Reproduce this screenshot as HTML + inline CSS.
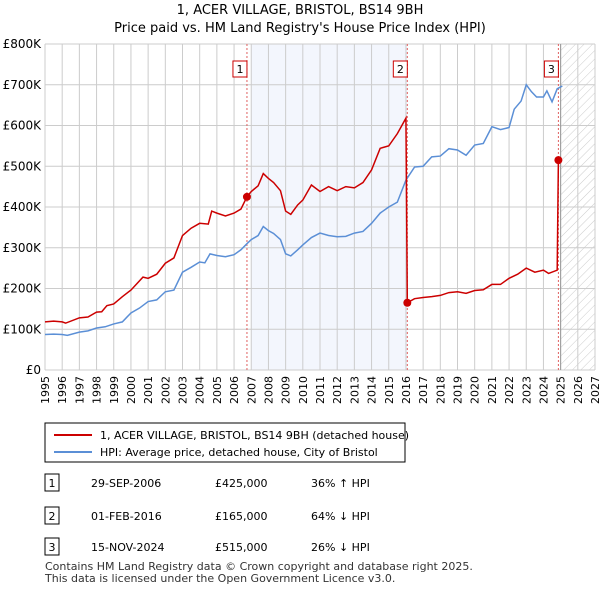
<!DOCTYPE html>
<html><head><meta charset="utf-8"><style>
body{margin:0;background:#fff;font-family:"Liberation Sans","DejaVu Sans",sans-serif;}
svg text{font-family:"DejaVu Sans","Liberation Sans",sans-serif;}
</style></head><body>
<svg id="c" width="600" height="590" viewBox="0 0 600 590" xmlns="http://www.w3.org/2000/svg">
<defs><pattern id="hatch" width="6" height="6" patternUnits="userSpaceOnUse" patternTransform="rotate(45)"><line x1="0" y1="0" x2="0" y2="6" stroke="#ccc" stroke-width="1"/></pattern></defs>
<text x="300" y="14" text-anchor="middle" font-size="13">1, ACER VILLAGE, BRISTOL, BS14 9BH</text>
<text x="300" y="32" text-anchor="middle" font-size="13">Price paid vs. HM Land Registry's House Price Index (HPI)</text>
<g id="grid"></g><g id="marks"></g>
<g>
<rect x="45" y="423" width="360" height="39" fill="#fff" stroke="#000" stroke-width="1"/>
<line x1="54" y1="435" x2="92" y2="435" stroke="#cc0000" stroke-width="2"/>
<text x="100" y="439" font-size="11">1, ACER VILLAGE, BRISTOL, BS14 9BH (detached house)</text>
<line x1="54" y1="452" x2="92" y2="452" stroke="#5b8fd6" stroke-width="2"/>
<text x="100" y="456" font-size="11">HPI: Average price, detached house, City of Bristol</text>
</g>
<g id="table" font-size="11"></g>
<text x="45" y="570" font-size="11" fill="#333">Contains HM Land Registry data © Crown copyright and database right 2025.</text>
<text x="45" y="582" font-size="11" fill="#333">This data is licensed under the Open Government Licence v3.0.</text>
</svg>
<script>
const yearTicks=[1995,1996,1997,1998,1999,2000,2001,2002,2003,2004,2005,2006,2007,2008,2009,2010,2011,2012,2013,2014,2015,2016,2017,2018,2019,2020,2021,2022,2023,2024,2025,2026,2027];
const valueTicks=[0,100000,200000,300000,400000,500000,600000,700000,800000];
const valueLabels=["£0","£100K","£200K","£300K","£400K","£500K","£600K","£700K","£800K"];
const hpiYears=[1995,1995.5,1996,1996.3,1997,1997.5,1998,1998.5,1999,1999.5,2000,2000.5,2001,2001.5,2002,2002.5,2003,2003.5,2004,2004.3,2004.6,2005,2005.5,2006,2006.4,2006.75,2007,2007.4,2007.7,2008,2008.3,2008.7,2009,2009.3,2009.7,2010,2010.5,2011,2011.5,2012,2012.5,2013,2013.5,2014,2014.5,2015,2015.5,2016,2016.5,2017,2017.5,2018,2018.5,2019,2019.5,2020,2020.5,2021,2021.5,2022,2022.3,2022.7,2023,2023.3,2023.6,2024,2024.2,2024.5,2024.8,2025.1];
const hpiValues=[87000,88000,87000,85000,93000,96000,103000,106000,113000,118000,140000,152000,168000,172000,192000,196000,240000,252000,265000,263000,285000,281000,278000,283000,295000,310000,320000,330000,352000,342000,335000,320000,285000,280000,295000,307000,325000,336000,330000,327000,328000,336000,340000,360000,385000,400000,412000,466000,498000,500000,523000,525000,543000,540000,527000,552000,556000,597000,590000,595000,640000,660000,700000,683000,670000,670000,685000,658000,690000,697000];
const ppYears=[1995,1995.5,1996,1996.2,1997,1997.5,1998,1998.3,1998.6,1999,1999.5,2000,2000.7,2001,2001.5,2002,2002.5,2003,2003.5,2004,2004.5,2004.7,2005,2005.5,2006,2006.4,2006.75,2007,2007.4,2007.7,2008,2008.3,2008.7,2009,2009.3,2009.7,2010,2010.5,2011,2011.5,2012,2012.5,2013,2013.5,2014,2014.5,2015,2015.5,2016,2016.08,2016.5,2017,2017.5,2018,2018.5,2019,2019.5,2020,2020.5,2021,2021.5,2022,2022.5,2023,2023.5,2024,2024.3,2024.8,2024.87];
const ppValues=[118000,120000,118000,115000,128000,130000,142000,143000,158000,162000,180000,196000,228000,225000,235000,262000,275000,330000,348000,360000,358000,390000,385000,378000,385000,395000,425000,438000,452000,482000,470000,460000,440000,390000,382000,405000,417000,454000,438000,450000,440000,450000,447000,460000,491000,544000,550000,580000,618000,165000,175000,178000,180000,183000,190000,192000,188000,195000,197000,210000,210000,225000,235000,250000,240000,245000,237000,245000,515000];
const saleYears=[2006.75,2016.08,2024.87];
const saleValues=[425000,165000,515000];
const saleLabels=["1","2","3"];
const saleDates=["29-SEP-2006","01-FEB-2016","15-NOV-2024"];
const salePrices=["£425,000","£165,000","£515,000"];
const saleHpi=["36% ↑ HPI","64% ↓ HPI","26% ↓ HPI"];

const NS="http://www.w3.org/2000/svg";
const X0=45,X1=595,Y0=370,Y1=44;
const xs=y=>X0+(y-1995)/(2027-1995)*(X1-X0);
const ys=v=>Y0-v/800000*(Y0-Y1);
function mk(t,a,p){const e=document.createElementNS(NS,t);for(const k in a)e.setAttribute(k,a[k]);p.appendChild(e);return e;}
const g=document.getElementById('grid'),m=document.getElementById('marks'),tb=document.getElementById('table');
let r=mk('rect',{x:xs(2007),y:Y1,width:xs(2016.08)-xs(2007),height:Y0-Y1,fill:'#f3f6fd'},g);


r=mk('rect',{x:xs(2025),y:Y1,width:X1-xs(2025),height:Y0-Y1,fill:'url(#hatch)'},g);


yearTicks.forEach(yr=>{mk('line',{x1:xs(yr),x2:xs(yr),y1:Y1,y2:Y0,stroke:'#ccc','stroke-width':1},g);
const t=mk('text',{x:0,y:0,'font-size':11,'text-anchor':'end',transform:`translate(${xs(yr)+4},${Y0+6}) rotate(-90)`},g);t.textContent=yr;

});
valueTicks.forEach((v,i)=>{mk('line',{x1:X0,x2:X1,y1:ys(v),y2:ys(v),stroke:'#ccc','stroke-width':1},g);
const t=mk('text',{x:X0-4,y:ys(v)+4,'font-size':12,'text-anchor':'end'},g);t.textContent=valueLabels[i];

});
mk('line',{x1:xs(2025),x2:xs(2025),y1:Y1,y2:Y0,stroke:'#999','stroke-width':1},g);
saleYears.forEach((yr,i)=>{mk('line',{x1:xs(yr),x2:xs(yr),y1:Y1,y2:Y0,stroke:'#e06060','stroke-width':1,'stroke-dasharray':'2,2'},m);});
let p=mk('polyline',{points:hpiYears.map((y,i)=>xs(y)+','+ys(hpiValues[i])).join(' '),fill:'none',stroke:'#5b8fd6','stroke-width':1.5},m);


p=mk('polyline',{points:ppYears.map((y,i)=>xs(y)+','+ys(ppValues[i])).join(' '),fill:'none',stroke:'#cc0000','stroke-width':1.5},m);


saleYears.forEach((yr,i)=>{const c=mk('circle',{cx:xs(yr),cy:ys(saleValues[i]),r:4,fill:'#cc0000'},m);


const bx=xs(yr)-14;mk('rect',{x:bx,y:61,width:14,height:16,fill:'#fff',stroke:'#cc0000'},m);
const t=mk('text',{x:bx+7,y:73,'font-size':11,'text-anchor':'middle'},m);t.textContent=saleLabels[i];


const ry=[483,516,547][i];
mk('rect',{x:45,y:ry-9,width:14,height:17,fill:'#fff',stroke:'#000'},tb);
let a=mk('text',{x:52,y:ry+4,'text-anchor':'middle'},tb);a.textContent=saleLabels[i];


a=mk('text',{x:91,y:ry+4},tb);a.textContent=saleDates[i];


a=mk('text',{x:215,y:ry+4},tb);a.textContent=salePrices[i];


a=mk('text',{x:311,y:ry+4},tb);a.textContent=saleHpi[i];

});
</script>
</body></html>
